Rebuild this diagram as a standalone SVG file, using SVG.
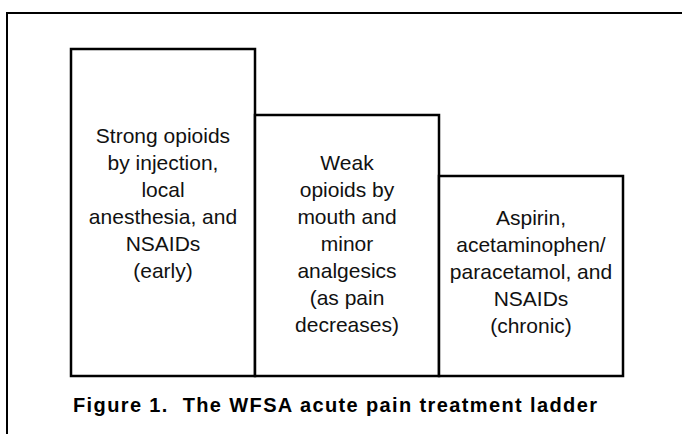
<svg xmlns="http://www.w3.org/2000/svg" width="682" height="434" viewBox="0 0 682 434">
<style>
.frame{fill:none;stroke:#000;stroke-width:2}
.box{fill:#fff;stroke:#000;stroke-width:2.5}
.lbl{font-family:"Liberation Sans",Arial,sans-serif;font-size:21px;fill:#111;text-anchor:middle}
.cap{font-family:"Liberation Sans",Arial,sans-serif;font-size:20px;font-weight:bold;fill:#000}
</style>
<rect width="682" height="434" fill="#fff"/>
<path class="frame" d="M7,434 V13 H682"/>
<g id="step-strong">
<rect class="box" x="71" y="49" width="184" height="327"/>
<text class="lbl" x="163"><tspan x="163" y="143">Strong opioids</tspan><tspan x="163" y="170">by injection,</tspan><tspan x="163" y="197">local</tspan><tspan x="163" y="224">anesthesia, and</tspan><tspan x="163" y="251">NSAIDs</tspan><tspan x="163" y="278">(early)</tspan></text>
</g>
<g id="step-weak">
<rect class="box" x="255" y="115" width="184" height="261"/>
<text class="lbl" x="347"><tspan x="347" y="170">Weak</tspan><tspan x="347" y="197">opioids by</tspan><tspan x="347" y="224">mouth and</tspan><tspan x="347" y="251">minor</tspan><tspan x="347" y="278">analgesics</tspan><tspan x="347" y="305">(as pain</tspan><tspan x="347" y="332">decreases)</tspan></text>
</g>
<g id="step-mild">
<rect class="box" x="439" y="176" width="184" height="200"/>
<text class="lbl" x="531"><tspan x="531" y="225">Aspirin,</tspan><tspan x="531" y="252">acetaminophen/</tspan><tspan x="531" y="279">paracetamol, and</tspan><tspan x="531" y="306">NSAIDs</tspan><tspan x="531" y="333">(chronic)</tspan></text>
</g>
<g id="connectors"></g>
<text class="cap" x="73" y="412" textLength="524" lengthAdjust="spacing" xml:space="preserve">Figure 1.  The WFSA acute pain treatment ladder</text>
</svg>
